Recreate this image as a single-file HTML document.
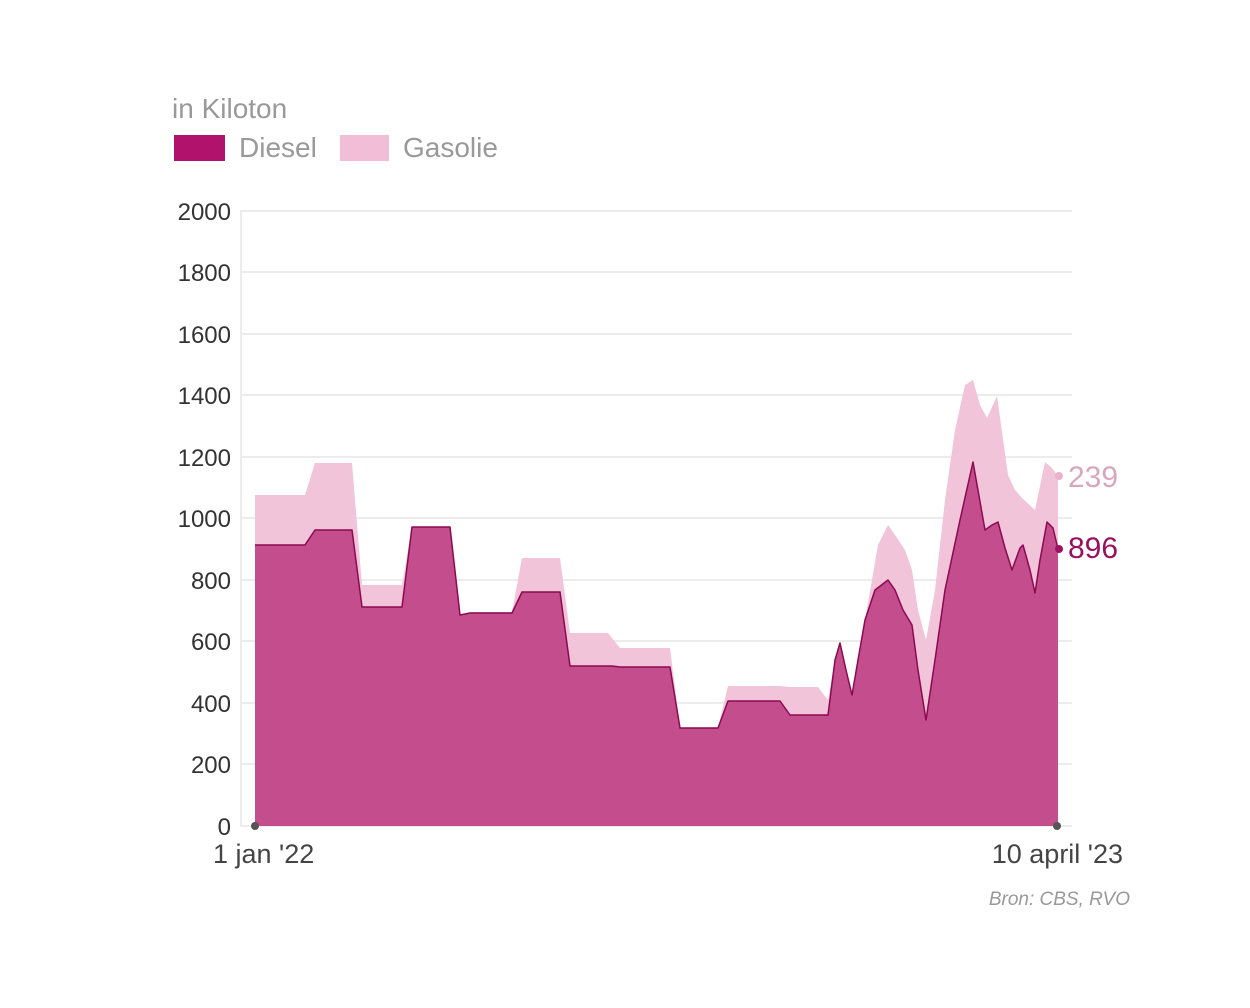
<!DOCTYPE html>
<html><head><meta charset="utf-8"><style>
body{margin:0;background:#fff;width:1250px;height:1003px;overflow:hidden;font-family:"Liberation Sans",sans-serif}
</style></head><body>
<svg width="1250" height="1003" xmlns="http://www.w3.org/2000/svg" font-family="Liberation Sans, sans-serif">
<text x="172" y="118" font-size="28" fill="#999">in Kiloton</text>
<rect x="174" y="135" width="51" height="26" fill="#b0126c"/>
<text x="239" y="157" font-size="28" fill="#999">Diesel</text>
<rect x="340" y="135" width="49" height="26" fill="#f2bdd6"/>
<text x="403" y="157" font-size="28" fill="#999">Gasolie</text>
<g stroke="#ececec" stroke-width="2">
<line x1="240" y1="211" x2="1072" y2="211"/><line x1="240" y1="272" x2="1072" y2="272"/>
<line x1="240" y1="334" x2="1072" y2="334"/><line x1="240" y1="395" x2="1072" y2="395"/>
<line x1="240" y1="457" x2="1072" y2="457"/><line x1="240" y1="518" x2="1072" y2="518"/>
<line x1="240" y1="580" x2="1072" y2="580"/><line x1="240" y1="641" x2="1072" y2="641"/>
<line x1="240" y1="703" x2="1072" y2="703"/><line x1="240" y1="764" x2="1072" y2="764"/>
<line x1="240" y1="826" x2="1072" y2="826"/><line x1="241" y1="211" x2="241" y2="826"/>
</g>
<g font-size="24" fill="#333" text-anchor="end">
<text x="231" y="220">2000</text><text x="231" y="281">1800</text><text x="231" y="343">1600</text>
<text x="231" y="404">1400</text><text x="231" y="466">1200</text><text x="231" y="527">1000</text>
<text x="231" y="589">800</text><text x="231" y="650">600</text><text x="231" y="712">400</text>
<text x="231" y="773">200</text><text x="231" y="835">0</text>
</g>
<path fill="#f2c4da" d="M255,826 L255,495 305,495 315,463 352,463 362,585 402,585 412,527 450,527 460,617 470,612 512,612 522,558 560,558 570,633 608,633 620,648 670,648 680,728 718,728 728,686 780,686 790,687 818,687 828,700 835,660 840,643 846,670 852,695 858,660 865,620 878,545 888,525 895,535 905,550 912,570 918,610 926,640 935,590 945,500 955,430 965,385 973,380 980,405 987,418 997,396 1008,475 1015,490 1022,498 1035,510 1045,462 1052,468 1058,476 1058,826 Z"/>
<path fill="#c44d8e" d="M255,826 L255,545 305,545 315,530 352,530 362,607 402,607 412,527 450,527 460,615 470,613 512,613 522,592 560,592 570,666 612,666 620,667 670,667 680,728 718,728 728,701 780,701 790,715 828,715 835,660 840,643 846,670 852,695 858,660 865,620 875,590 888,580 895,590 903,610 912,625 918,670 926,720 935,660 945,590 960,520 973,462 985,530 992,525 998,522 1005,548 1012,570 1020,548 1023,545 1030,570 1035,593 1040,560 1047,522 1053,528 1058,549 L1058,826 Z"/>
<path fill="none" stroke="#8b0a50" stroke-width="1.5" stroke-linejoin="round" d="M255,545 305,545 315,530 352,530 362,607 402,607 412,527 450,527 460,615 470,613 512,613 522,592 560,592 570,666 612,666 620,667 670,667 680,728 718,728 728,701 780,701 790,715 828,715 835,660 840,643 846,670 852,695 858,660 865,620 875,590 888,580 895,590 903,610 912,625 918,670 926,720 935,660 945,590 960,520 973,462 985,530 992,525 998,522 1005,548 1012,570 1020,548 1023,545 1030,570 1035,593 1040,560 1047,522 1053,528 1058,549"/>
<circle cx="255" cy="826" r="4" fill="#555"/><circle cx="1057" cy="826" r="4" fill="#555"/>
<circle cx="1059" cy="476" r="4" fill="#e8b2cc"/><circle cx="1059" cy="549" r="4" fill="#a0125f"/>
<text x="1068" y="487" font-size="30" fill="#d8a6bd">239</text>
<text x="1068" y="558" font-size="30" fill="#9a1060">896</text>
<text x="213" y="863" font-size="27" fill="#444">1 jan '22</text>
<text x="1123" y="863" font-size="27" fill="#444" text-anchor="end">10 april '23</text>
<text x="1130" y="905" font-size="19" fill="#999" font-style="italic" text-anchor="end">Bron: CBS, RVO</text>
</svg>
</body></html>
